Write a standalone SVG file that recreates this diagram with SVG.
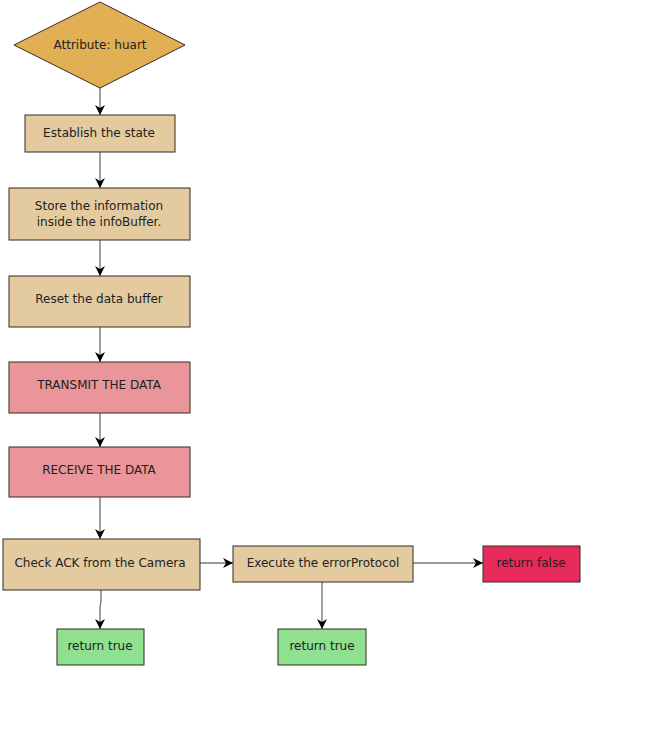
<svg xmlns="http://www.w3.org/2000/svg" width="650" height="750" viewBox="0 0 650 750">
<style>
.n{stroke:#332b22;stroke-width:1}
.tan{fill:#e3cb9f}
.pink{fill:#ea959a}
.green{fill:#8fe08f}
.red{fill:#e82a5a}
.dia{fill:#e1b054}
text{font-family:"DejaVu Sans",Verdana,sans-serif;font-size:12px;fill:#222;text-anchor:middle;dominant-baseline:central}
.c{stroke:#6e6e6e;stroke-width:1.3;fill:none;marker-end:url(#ah)}
.h{stroke:#333;stroke-width:1;fill:none;marker-end:url(#ah)}
</style>
<defs>
<marker id="ah" viewBox="0 0 10 10" refX="10" refY="5" markerWidth="10" markerHeight="10" markerUnits="userSpaceOnUse" orient="auto">
<path d="M0,0 L10,5 L0,10 L3,5 Z" fill="#000"/>
</marker>
</defs>
<rect width="650" height="750" fill="#fff"/>
<g id="connectors">
<line class="c" x1="100" y1="88" x2="100" y2="115"/>
<line class="c" x1="100" y1="152" x2="100" y2="188"/>
<line class="c" x1="100" y1="240" x2="100" y2="276"/>
<line class="c" x1="100" y1="327" x2="100" y2="362"/>
<line class="c" x1="100" y1="413" x2="100" y2="447"/>
<line class="c" x1="100" y1="497" x2="100" y2="539"/>
<polyline class="c" points="101,590 101,600 100,608 100,629"/>
<line class="h" x1="200" y1="563" x2="233" y2="563"/>
<line class="h" x1="413" y1="563" x2="483" y2="563"/>
<line class="c" x1="322" y1="582" x2="322" y2="629"/>
</g>
<g id="n1"><polygon class="n dia" points="100,2 185,45 100,88 14,45"/><text x="100" y="45">Attribute: huart</text></g>
<g id="n2"><rect class="n tan" x="25" y="115" width="150" height="37"/><text x="99" y="133">Establish the state</text></g>
<g id="n3"><rect class="n tan" x="9" y="188" width="181" height="52"/><text x="99" y="206">Store the information</text><text x="99" y="222">inside the infoBuffer.</text></g>
<g id="n4"><rect class="n tan" x="9" y="276" width="181" height="51"/><text x="99" y="299">Reset the data buffer</text></g>
<g id="n5"><rect class="n pink" x="9" y="362" width="181" height="51"/><text x="99" y="385">TRANSMIT THE DATA</text></g>
<g id="n6"><rect class="n pink" x="9" y="447" width="181" height="50"/><text x="99" y="470">RECEIVE THE DATA</text></g>
<g id="n7"><rect class="n tan" x="3" y="539" width="197" height="51"/><text x="100" y="563">Check ACK from the Camera</text></g>
<g id="n8"><rect class="n green" x="57" y="629" width="87" height="36"/><text x="100" y="646">return true</text></g>
<g id="n9"><rect class="n tan" x="233" y="546" width="180" height="36"/><text x="323" y="563">Execute the errorProtocol</text></g>
<g id="n10"><rect class="n green" x="278" y="629" width="88" height="36"/><text x="322" y="646">return true</text></g>
<g id="n11"><rect class="n red" x="483" y="546" width="97" height="36"/><text x="531" y="563">return false</text></g>
</svg>
